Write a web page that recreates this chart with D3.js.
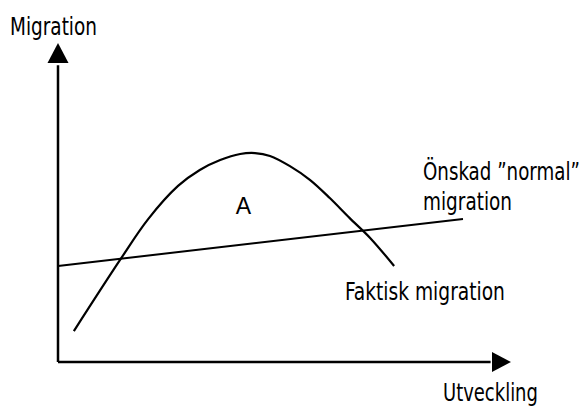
<!DOCTYPE html>
<html>
<head>
<meta charset="utf-8">
<script src="https://cdn.jsdelivr.net/npm/d3@7"></script>
<style>
  html, body { margin: 0; padding: 0; background: #fff; }
  svg { display: block; }
  text { font-family: "DejaVu Sans Condensed", "DejaVu Sans", sans-serif; font-stretch: condensed; fill: #000; }
</style>
</head>
<body>
<svg id="chart" width="585" height="406"></svg>
<script>
// Data (in arbitrary "Utveckling" / "Migration" units, 0-100)
const actualX = [3.5, 13.7, 19.9, 26.5, 31.3, 35.8, 40.2, 43.5, 46.8, 51.2, 55.6, 60.0, 64.4, 68.9, 74.2];
const actualY = [9.7, 32.0, 44.8, 55.2, 60.2, 63.3, 65.2, 65.5, 64.6, 61.4, 57.1, 51.4, 45.1, 38.9, 30.1];
const desiredX = [0, 89.4];
const desiredY = [30.1, 44.8];
const axisLabels = ["Migration", "Utveckling"];
const annotations = ["Önskad ”normal”", "migration", "Faktisk migration", "A"];

const svg = d3.select("#chart");
const x = d3.scaleLinear().domain([0, 100]).range([58, 511]);
const y = d3.scaleLinear().domain([0, 100]).range([362, 43]);

// Axes with arrowheads
const ax = svg.append("g");
ax.append("line").attr("x1", x(0)).attr("y1", y(0)).attr("x2", x(0)).attr("y2", y(93))
  .attr("stroke", "#000").attr("stroke-width", 2.5);
ax.append("line").attr("x1", x(0)).attr("y1", y(0)).attr("x2", x(95.5)).attr("y2", y(0))
  .attr("stroke", "#000").attr("stroke-width", 2.5);
ax.append("path")
  .attr("d", `M${x(0)},${y(100)} L${x(0) - 10.5},${y(93.7)} L${x(0) + 10.5},${y(93.7)} Z`)
  .attr("fill", "#000");
ax.append("path")
  .attr("d", `M${x(100)},${y(0)} L${x(95.8)},${y(0) - 10} L${x(95.8)},${y(0) + 10} Z`)
  .attr("fill", "#000");

// Desired "normal" migration line
const line = d3.line().x(d => x(d[0])).y(d => y(d[1]));
svg.append("path")
  .datum(desiredX.map((v, i) => [v, desiredY[i]]))
  .attr("d", line)
  .attr("fill", "none").attr("stroke", "#000").attr("stroke-width", 2);

// Actual migration curve
const curve = d3.line().x(d => x(d[0])).y(d => y(d[1])).curve(d3.curveCatmullRom.alpha(0.5));
svg.append("path")
  .datum(actualX.map((v, i) => [v, actualY[i]]))
  .attr("d", curve)
  .attr("fill", "none").attr("stroke", "#000").attr("stroke-width", 2.2);

// Labels (condensed by horizontal scaling to the reference widths)
function label(txt, px, py, len) {
  const g = svg.append("g");
  const t = g.append("text").attr("x", 0).attr("y", 0).attr("font-size", 25).text(txt);
  const w = t.node().getComputedTextLength();
  g.attr("transform", `translate(${px},${py}) scale(${len / w},1)`);
}
label(axisLabels[0], 10, 35, 87);
label(axisLabels[1], 443, 401, 95);
label(annotations[0], 423, 180, 157);
label(annotations[1], 423, 210, 89);
label(annotations[2], 345, 300, 160);
svg.append("text").attr("x", 243.5).attr("y", 214).attr("font-size", 23)
  .attr("text-anchor", "middle")
  .style("font-family", "'Liberation Sans', Arial, sans-serif").style("font-stretch", "normal")
  .text(annotations[3]);
</script>
</body>
</html>
